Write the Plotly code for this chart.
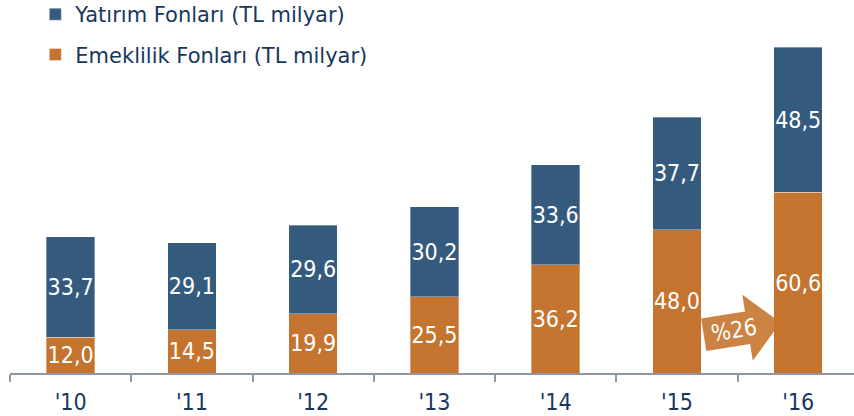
import math
import plotly.graph_objects as go

years = ["'10", "'11", "'12", "'13", "'14", "'15", "'16"]
emeklilik = [12.0, 14.5, 19.9, 25.5, 36.2, 48.0, 60.6]
yatirim = [33.7, 29.1, 29.6, 30.2, 33.6, 37.7, 48.5]
growth_label = "%26"

BLUE = "#345B7E"
ORANGE = "#C5742F"
NAVY = "#17375E"
FONT = "DejaVu Sans, Verdana, sans-serif"
FONT_C = "DejaVu Sans Condensed, DejaVu Sans, sans-serif"

W, H = 854, 416
ML, MR, MT, MB = 10, 0, 10, 43

fig = go.Figure()
fig.add_trace(go.Bar(
    x=years, y=emeklilik, name="Emeklilik Fonları (TL milyar)",
    marker=dict(color=ORANGE, line=dict(color="rgba(255,255,255,0.35)", width=1)),
    texttemplate="%{y:.1f}", textposition="inside", insidetextanchor="middle",
    textangle=0, constraintext="none",
    textfont=dict(color="white", size=23, family=FONT_C),
    legendgroup="b", legendrank=2,
))
fig.add_trace(go.Bar(
    x=years, y=yatirim, name="Yatırım Fonları (TL milyar)",
    marker=dict(color=BLUE, line=dict(color="rgba(255,255,255,0.35)", width=1)),
    texttemplate="%{y:.1f}", textposition="inside", insidetextanchor="middle",
    textangle=0, constraintext="none",
    textfont=dict(color="white", size=23, family=FONT_C),
    legendgroup="a", legendrank=1,
))

# growth arrow (annotation graphic) defined in pixel space, converted to paper coords
pw, ph = W - ML - MR, H - MT - MB
def to_paper(px, py):
    return (px - ML) / pw, (H - MB - py) / ph

x0, y0, th = 703.7, 334.7, math.radians(9)
local = [(0, -16.5), (44.4, -16.5), (44.4, -33.4), (77.7, 0), (44.4, 33.4), (44.4, 16.5), (0, 16.5)]
pts = []
for u, v in local:
    px = x0 + u * math.cos(th) + v * math.sin(th)
    py = y0 - u * math.sin(th) + v * math.cos(th)
    pts.append(to_paper(px, py))
path = "M " + " L ".join(f"{a:.5f},{b:.5f}" for a, b in pts) + " Z"
fig.add_shape(type="path", path=path, xref="paper", yref="paper",
              fillcolor="rgba(197,116,47,0.9)", line=dict(width=0), layer="above")
tx, ty = to_paper(734, 330)
fig.add_annotation(x=tx, y=ty, xref="paper", yref="paper", text=growth_label,
                   xanchor="center", yanchor="middle",
                   showarrow=False, textangle=-9,
                   font=dict(color="white", size=23, family=FONT_C))

fig.update_layout(
    width=W, height=H,
    margin=dict(l=ML, r=MR, t=MT, b=MB, autoexpand=False),
    barmode="stack", bargap=0.6,
    plot_bgcolor="white", paper_bgcolor="white",
    separators=",.",
    font=dict(family=FONT, color=NAVY),
    showlegend=True,
    legend=dict(x=0.03, y=1.044, xanchor="left", yanchor="top",
                traceorder="grouped", tracegroupgap=10,
                font=dict(size=21, color=NAVY, family=FONT),
                bgcolor="rgba(0,0,0,0)"),
    xaxis=dict(type="category", range=[-0.5, 6.46], showline=True,
               linecolor="#8F97A1", linewidth=1.5, ticks="outside",
               tickson="boundaries", ticklen=7, tickcolor="#8F97A1", tickwidth=1.5,
               ticklabelstandoff=8,
               tickfont=dict(size=23, color=NAVY, family=FONT_C), showgrid=False),
    yaxis=dict(range=[0, 121.6], visible=False, showgrid=False, zeroline=False),
)

fig.write_html("out.html", config={"displayModeBar": False},
               post_script="document.body.style.margin='0';document.body.style.overflow='hidden';")
